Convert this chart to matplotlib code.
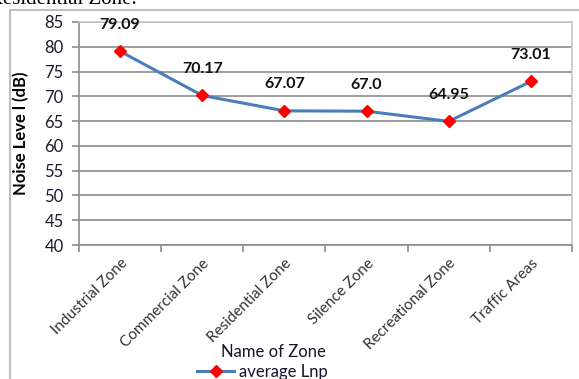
import matplotlib
matplotlib.use("Agg")
import matplotlib.pyplot as plt
from matplotlib.patches import Rectangle
from matplotlib.lines import Line2D

zones = ["Industrial Zone", "Commercial Zone", "Residential Zone",
         "Silence Zone", "Recreational Zone", "Traffic Areas"]
avg_lnp = [79.09, 70.17, 67.07, 67.0, 64.95, 73.01]
value_labels = ["79.09", "70.17", "67.07", "67.0", "64.95", "73.01"]
y_ticks = [40, 45, 50, 55, 60, 65, 70, 75, 80, 85]

W, H = 579, 379
fig = plt.figure(figsize=(W / 100, H / 100), dpi=100)
fig.patch.set_facecolor("white")

# outer chart frame
fig.add_artist(Rectangle((10 / W, -0.05), 1.2, 1 - 10 / H + 0.05,
                         transform=fig.transFigure, fill=False,
                         edgecolor="#bfbfbf", linewidth=1.5))

# caption text running off the top edge
fig.text(137 / W, 1 - 4 / H, "Residential Zone.", ha="right", va="baseline",
         fontsize=15, family="Liberation Serif", color="black")

ax = fig.add_axes([79 / W, 1 - 245 / H, (572 - 79) / W, (245 - 22) / H])
ax.set_facecolor("white")

x = list(range(len(zones)))
ax.plot(x, avg_lnp, color="#4a7ebb", linewidth=2.2, zorder=3,
        marker="D", markersize=6, markerfacecolor="#ff0000",
        markeredgecolor="#ff0000", label="average Lnp")

for xi, yi, lab in zip(x, avg_lnp, value_labels):
    ax.annotate(lab, (xi, yi), xytext=(0, 19), textcoords="offset points",
                ha="center", va="center", fontsize=11.5, fontweight="bold",
                family="Lato", color="#111111")

ax.set_xlim(-0.5, len(zones) - 0.5)
ax.set_ylim(40, 85)
ax.set_yticks(y_ticks)
ax.set_yticklabels([str(v) for v in y_ticks], family="Lato", fontsize=12,
                   color="#1a1a2e")
ax.yaxis.grid(True, color="#8c8c8c", linewidth=1.2)
ax.set_axisbelow(True)

# category ticks sit on the boundaries between categories
ax.set_xticks([i - 0.5 for i in range(len(zones) + 1)], minor=False)
ax.set_xticklabels([""] * (len(zones) + 1))
ax.set_xticks(x, minor=True)
ax.set_xticklabels(zones, minor=True, rotation=45, ha="right", va="top",
                   rotation_mode="anchor", family="Lato", fontsize=11,
                   color="#333333")
ax.tick_params(axis="x", which="minor", length=0, pad=8)
ax.tick_params(axis="x", which="major", length=5, color="#8c8c8c", width=1.2)
ax.tick_params(axis="y", length=5, color="#8c8c8c", width=1.2, pad=6)

for side in ["top", "right", "left", "bottom"]:
    ax.spines[side].set_color("#8c8c8c")
    ax.spines[side].set_linewidth(1.2)
ax.spines["top"].set_color("#c8c8c8")
ax.spines["right"].set_color("#c8c8c8")

ax.set_ylabel("Noise Leve l (dB)", family="Lato", fontweight="bold",
              fontsize=12, color="black", labelpad=4)
ax.yaxis.set_label_coords(-0.10, 0.5)

fig.text(273 / W, 1 - 352 / H, "Name of Zone", ha="center", va="center",
         family="Lato", fontsize=12, color="#14142e")
handle = Line2D([], [], color="#4a7ebb", linewidth=2.2, marker="D",
                markersize=6, markerfacecolor="#ff0000",
                markeredgecolor="#ff0000")
fig.legend([handle], ["average Lnp"], loc="center left",
           bbox_to_anchor=(189 / W, 1 - 372 / H), frameon=False,
           prop={"family": "Lato", "size": 12}, handlelength=2.2,
           handletextpad=0.3, borderpad=0, labelcolor="#14142e")

fig.savefig("out.png", dpi=100)
